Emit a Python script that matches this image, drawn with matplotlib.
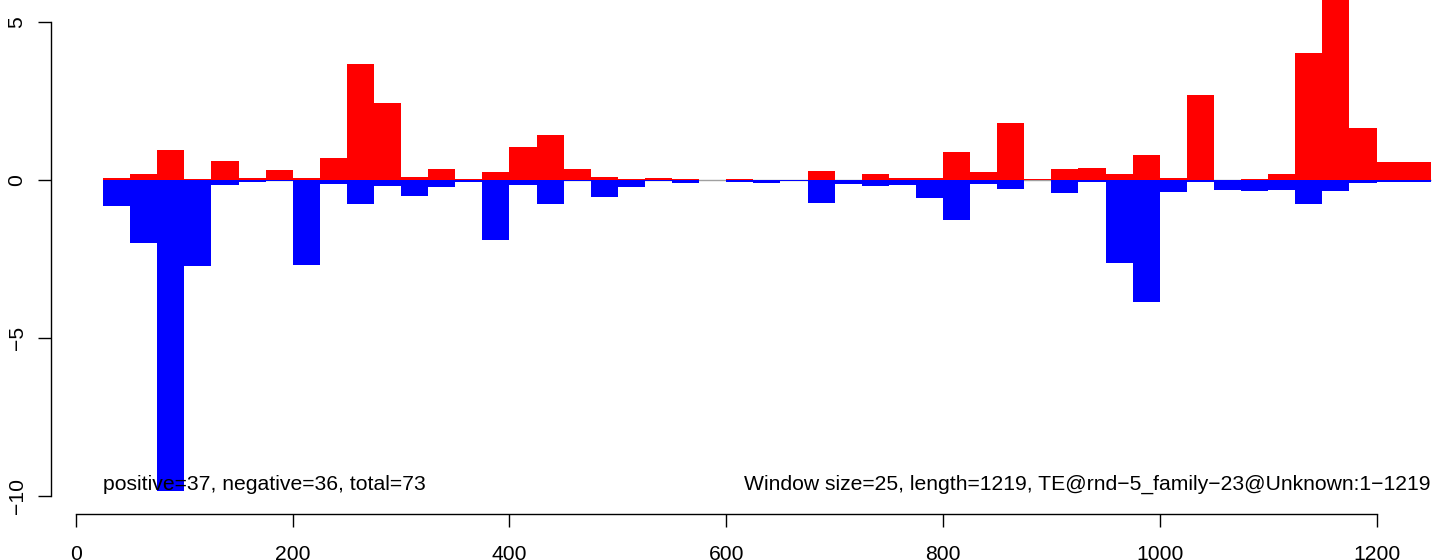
import numpy as np
import matplotlib
matplotlib.use("Agg")
import matplotlib.pyplot as plt

# window starts (window size 25)
window = 25
starts = np.arange(25, 1250, window)

pos_vals = [0.06, 0.20, 0.95, 0.03, 0.60, 0.06, 0.32, 0.06, 0.70, 3.67,
            2.44, 0.09, 0.35, 0.02, 0.25, 1.04, 1.42, 0.35, 0.09, 0.03,
            0.06, 0.03, 0.00, 0.03, 0.00, 0.00, 0.28, 0.00, 0.19, 0.06,
            0.06, 0.89, 0.25, 1.80, 0.03, 0.35, 0.38, 0.19, 0.79, 0.06,
            2.69, 0.00, 0.03, 0.19, 4.02, 8.60, 1.65, 0.57, 0.57]
neg_vals = [-0.82, -1.98, -9.83, -2.72, -0.16, -0.06, -0.03, -2.69, -0.13, -0.76,
            -0.19, -0.51, -0.22, -0.06, -1.90, -0.16, -0.76, -0.03, -0.54, -0.22,
            -0.03, -0.09, 0.00, -0.06, -0.09, -0.03, -0.73, -0.13, -0.19, -0.16,
            -0.57, -1.27, -0.13, -0.28, 0.00, -0.41, -0.06, -2.63, -3.86, -0.38,
            -0.06, -0.32, -0.35, -0.32, -0.76, -0.35, -0.09, -0.06, -0.06]

x_ticks = [0, 200, 400, 600, 800, 1000, 1200]
y_ticks = [-10, -5, 0, 5]

left_label = "positive=37, negative=36, total=73"
right_label = "Window size=25, length=1219, TE@rnd\u22125_family\u221223@Unknown:1\u22121219"

plt.rcParams['font.family'] = ['Liberation Sans', 'DejaVu Sans']
fs = 15.2

W, H = 1441, 560
fig = plt.figure(figsize=(W / 100, H / 100), dpi=100)
# plot region in pixels: left edge 50.7, bottom edge 514, running off the top/right
ax = fig.add_axes([50.7 / W, (H - 514) / H, 1 - 50.7 / W, 514 / H])

# zero line only under the windows
ax.hlines(0, starts[0], starts[-1] + window, color="#a0a0a0", lw=1.0, zorder=1)
ax.bar(starts, pos_vals, width=window, align="edge", color="red", lw=0, zorder=2)
ax.bar(starts, neg_vals, width=window, align="edge", color="blue", lw=0, zorder=3)

ax.set_xlim(-23.3, 1259.5)
ax.set_ylim(-10.57, 5.696)

for s in ["top", "right"]:
    ax.spines[s].set_visible(False)
ax.spines["left"].set_bounds(-10, 5)
ax.spines["bottom"].set_bounds(0, 1200)
ax.spines["left"].set_linewidth(1.0)
ax.spines["bottom"].set_linewidth(1.0)

ax.set_xticks(x_ticks)
ax.set_yticks(y_ticks)
ax.tick_params(axis="x", length=9, width=1.0, pad=13, labelsize=fs)
ax.tick_params(axis="y", length=9.4, width=1.0, pad=8, labelsize=fs)
for lab in ax.get_yticklabels():
    lab.set_rotation(90)
    lab.set_va("center")

ax.text(25, -9.81, left_label, ha="left", va="baseline", fontsize=fs)
ax.text(1250, -9.81, right_label, ha="right", va="baseline", fontsize=fs)

fig.savefig("out.png", dpi=100)
